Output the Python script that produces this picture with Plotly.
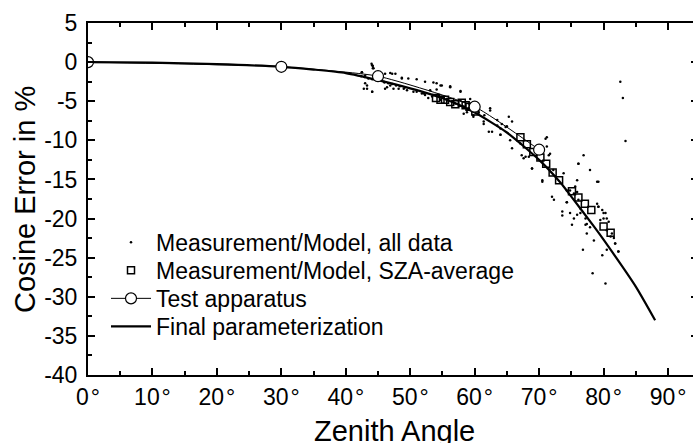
import plotly.graph_objects as go

# Measurement/Model, all data (zenith angle deg, cosine error %)
all_x = [44.0, 44.2, 44.3, 42.5, 43.0, 42.8, 44.1, 43.3, 45.9, 46.4, 46.9, 48.2, 49.5, 51.0, 52.1,
         46.9, 47.7, 48.7, 49.7, 51.0, 52.3, 53.6, 54.7, 56.2, 57.8,
         54.1, 55.2, 57.8, 58.8, 59.8, 61.4, 62.4,
         63.5, 64.0, 65.0, 65.8, 62.7, 64.0, 65.5, 67.1, 68.4, 67.6, 68.9, 71.0, 71.2, 70.5, 71.5,
         72.0, 72.3, 73.6, 73.6, 74.3, 75.4, 75.9, 76.1, 76.9, 77.9, 79.0, 74.8, 75.4, 76.4,
         79.2, 80.0, 80.5, 82.6, 83.0, 83.4,
         75.1, 77.2, 77.4, 78.5, 76.8, 79.8, 80.5, 82.3, 81.8, 81.6, 78.3, 80.3, 81.3,
         75.9, 79.2, 79.8, 80.3, 80.0, 79.5, 80.8, 80.5, 81.1, 81.8, 82.3, 79.0, 77.4, 77.9, 77.2,
         76.4, 76.1, 74.3, 74.8, 75.6, 79.2,
         65.8, 67.3, 67.9, 68.9, 71.2, 71.7, 72.2, 73.8, 74.3, 75.9, 76.1, 70.5,
         44.1, 44.2, 42.5, 46.1, 47.2, 48.7, 43.3, 43.0, 44.1, 46.1, 47.4, 49.0, 50.5, 51.8, 53.1,
         52.8, 54.4,
         42.4, 42.9, 43.5, 44.1, 44.7, 45.3, 46.0, 46.6, 47.2, 47.8, 48.4, 49.2,
         54.1, 54.9, 56.2, 57.8, 59.3, 62.4, 63.5, 64.2, 65.3, 58.3, 59.8, 61.4, 62.2, 64.0, 64.8,
         52.3, 53.4, 54.7, 55.7, 57.0, 58.1, 59.0, 60.6, 61.5]
all_y = [-0.2, -0.5, -0.8, -1.3, -1.7, -3.4, -3.8, -3.0, -2.5, -3.2, -3.0, -3.4, -3.6, -3.8, -4.0,
         -1.4, -1.5, -2.0, -2.1, -2.2, -2.5, -2.6, -3.0, -3.1, -3.7,
         -3.5, -4.5, -4.9, -6.4, -6.8, -7.9, -5.9,
         -8.1, -8.5, -8.2, -7.6, -8.9, -9.3, -10.0, -10.4, -12.1, -12.3, -13.6, -9.8, -10.8, -15.3, -11.9,
         -17.2, -17.6, -19.1, -19.6, -17.9, -16.8, -15.1, -13.0, -11.9, -13.8, -15.3, -19.3, -20.0, -18.7,
         -18.5, -19.3, -20.0, -2.5, -4.6, -10.1,
         -20.8, -20.8, -21.9, -22.8, -24.0, -24.7, -24.0, -24.2, -23.2, -22.5, -27.0, -28.3, -21.9,
         -19.5, -18.5, -18.9, -19.3, -20.0, -20.2, -20.4, -21.5, -22.3, -23.2, -24.2, -18.1, -20.7, -21.1, -20.0,
         -19.3, -17.6, -17.9, -16.4, -15.9, -15.3,
         -11.0, -11.9, -12.1, -13.6, -9.6, -11.7, -13.8, -14.2, -16.4, -16.6, -13.0, -15.1,
         -0.4, -0.8, -1.3, -1.5, -1.5, -2.1, -3.4, -2.7, -3.8, -3.4, -3.4, -3.4, -3.8, -4.0, -3.6,
         -4.6, -4.2,
         -1.8, -1.9, -2.1, -2.2, -2.3, -2.3, -2.6, -2.7, -2.8, -3.0, -3.1, -3.2,
         -2.7, -3.0, -3.2, -3.8, -4.7, -6.2, -7.4, -7.9, -7.0, -6.6, -7.0, -7.6, -8.9, -9.3, -8.3,
         -4.2, -4.4, -4.8, -4.9, -5.3, -5.6, -5.9, -6.4, -6.8]

# Measurement/Model, SZA-average
avg_x = [54.0, 54.7, 55.4, 56.2, 57.0, 58.0, 58.6, 59.2, 60.1, 67.1, 68.1, 69.1, 70.2, 71.1,
         72.1, 73.1, 75.1, 76.1, 77.1, 78.1, 80.0, 81.1]
avg_y = [-4.6, -4.8, -4.8, -5.1, -5.4, -5.2, -5.5, -5.7, -6.3, -9.6, -10.5, -11.5, -12.2, -13.0,
         -14.1, -15.1, -16.5, -17.3, -18.1, -18.9, -21.0, -21.8]

# Test apparatus
test_x = [0, 30, 45, 60, 70]
test_y = [0.0, -0.6, -1.8, -5.7, -11.2]

# Final parameterization
fin_x = [0, 10, 20, 30, 35, 40, 45, 50, 55, 60, 65, 70, 73.3, 75, 78.5, 80, 85, 88]
fin_y = [0.0, -0.06, -0.25, -0.6, -0.95, -1.4, -2.3, -3.35, -4.6, -6.45, -9.0, -12.5,
         -15.4, -17.2, -21.0, -22.7, -28.7, -33.0]

x_ticks = [0, 10, 20, 30, 40, 50, 60, 70, 80, 90]
x_ticklabels = [f"{v}\u200a°" for v in x_ticks]
y_ticks = [5, 0, -5, -10, -15, -20, -25, -30, -35, -40]
y_ticklabels = [str(v) for v in y_ticks]

FONT = "Liberation Sans, Arial, Helvetica, sans-serif"
LEG_FONT = dict(size=23, family=FONT, color="black")

W = 698            # plot frame runs a few pixels past the 693 px window, as in the reference
PLOT_W = W - 88
LEG_X = 18 / PLOT_W

def leg(yc):
    return dict(x=LEG_X, y=yc, xanchor="left", yanchor="middle",
                bgcolor="rgba(0,0,0,0)", font=LEG_FONT,
                itemwidth=40, itemsizing="trace")

fig = go.Figure()
fig.add_trace(go.Scatter(x=all_x, y=all_y, mode="markers", name="Measurement/Model, all data",
                         marker=dict(color="black", size=2.5, symbol="circle"), legend="legend"))
fig.add_trace(go.Scatter(x=avg_x, y=avg_y, mode="markers", name="Measurement/Model, SZA-average",
                         marker=dict(symbol="square-open", size=7, color="black",
                                     line=dict(width=1.5, color="black")), legend="legend2"))
fig.add_trace(go.Scatter(x=fin_x, y=fin_y, mode="lines", name="Final parameterization",
                         line=dict(color="black", width=2.2, shape="spline", smoothing=0.6),
                         legend="legend4"))
fig.add_trace(go.Scatter(x=test_x, y=test_y, mode="lines+markers", name="Test apparatus",
                         line=dict(color="black", width=1, shape="spline", smoothing=0.5),
                         marker=dict(symbol="circle", size=11, color="white",
                                     line=dict(color="black", width=1.2)), legend="legend3"))

x_max = PLOT_W / (580 / 90)

fig.update_layout(
    width=W, height=443,
    margin=dict(l=88, r=0, t=23, b=68),
    plot_bgcolor="white", paper_bgcolor="white",
    font=dict(family=FONT, color="black", size=23),
    showlegend=True,
    legend=leg(0.3767),
    legend2=leg(0.2971),
    legend3=leg(0.2176),
    legend4=leg(0.1380),
    xaxis=dict(range=[0, x_max], tickvals=x_ticks, ticktext=x_ticklabels,
               ticks="inside", ticklen=7, tickwidth=1.5, tickcolor="black",
               showline=True, linecolor="black", linewidth=2, mirror="ticks",
               showgrid=False, zeroline=False, automargin=False,
               minor=dict(ticks="inside", ticklen=4, dtick=5, tick0=0, tickcolor="black", tickwidth=1.5),
               tickfont=dict(size=23)),
    yaxis=dict(range=[-40, 5], tickvals=y_ticks, ticktext=y_ticklabels,
               ticks="inside", ticklen=7, tickwidth=1.5, tickcolor="black",
               showline=True, linecolor="black", linewidth=2, mirror="ticks",
               showgrid=False, zeroline=False, automargin=False, ticklabelstandoff=4,
               minor=dict(ticks="inside", ticklen=4, dtick=2.5, tick0=0, tickcolor="black", tickwidth=1.5),
               tickfont=dict(size=23)),
    annotations=[
        dict(text="Zenith Angle", xref="paper", yref="paper", x=(394 - 88) / PLOT_W, y=-0.108,
             xanchor="center", yanchor="top", showarrow=False, font=dict(size=29, family=FONT)),
        dict(text="Cosine Error in %", xref="paper", yref="paper", x=-63 / PLOT_W, y=0.497,
             xanchor="center", yanchor="middle", textangle=-90, showarrow=False,
             font=dict(size=29, family=FONT)),
    ],
)

fig.write_html("out.html", config={"displayModeBar": False},
               post_script="document.body.style.margin='0';document.body.style.overflow='hidden';"
                           "document.documentElement.style.overflow='hidden';")
